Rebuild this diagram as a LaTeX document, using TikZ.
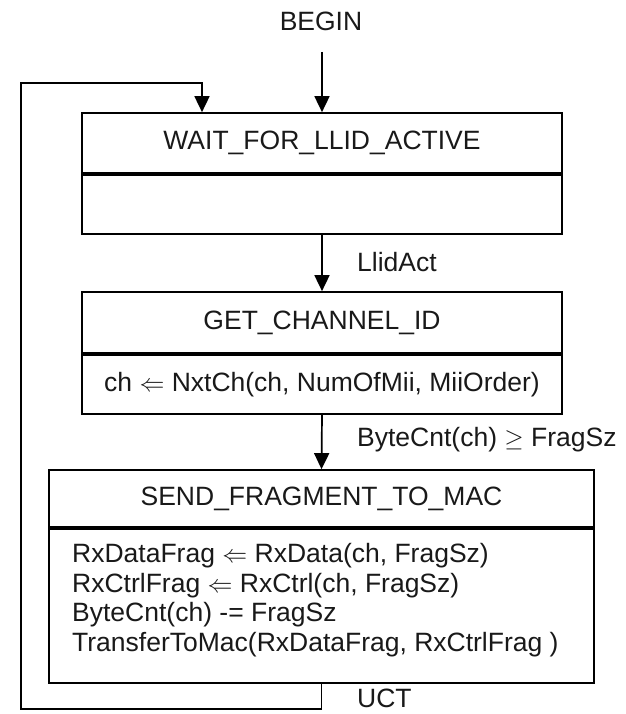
\documentclass[tikz,border=0pt]{standalone}
\usepackage{fontspec}
\setmainfont{Liberation Sans}
\usetikzlibrary{arrows.meta}
\newcommand{\larr}{\ensuremath{\Leftarrow}}
\begin{document}
\begin{tikzpicture}[x=1pt,y=-1pt,
  every node/.style={font=\fontsize{26.5}{29.5}\selectfont, inner sep=0pt, text=black!90},
  part/.style={draw, line width=1.7pt},
  arr/.style={line width=1.7pt, -{Triangle[length=16pt,width=15pt]}},
  lnk/.style={line width=1.7pt}]
\useasboundingbox (0,0) rectangle (625,714);
\node (begin) at (321,21) {BEGIN};
\coordinate (bs) at (322,52);
\node[part, minimum width=480pt, minimum height=60pt] (a1) at (322,143) {WAIT\_FOR\_LLID\_ACTIVE};
\node[part, minimum width=480pt, minimum height=59pt, anchor=north] (a2) at (a1.south) {};
\node[part, minimum width=480pt, minimum height=61pt] (b1) at (322,322.5) {GET\_CHANNEL\_ID};
\node[part, minimum width=480pt, minimum height=59pt, anchor=north] (b2) at (b1.south) {ch \larr{} NxtCh(ch, NumOfMii, MiiOrder)};
\node[part, minimum width=545pt, minimum height=57pt] (c1) at (321.5,498.5) {SEND\_FRAGMENT\_TO\_MAC};
\node[part, minimum width=545pt, minimum height=154pt, anchor=north] (c2) at (c1.south) {};
\node[anchor=west, align=left] (c2t) at (72,600) {RxDataFrag \larr{} RxData(ch, FragSz)\\
RxCtrlFrag \larr{} RxCtrl(ch, FragSz)\\
ByteCnt(ch) -= FragSz\\
TransferToMac(RxDataFrag, RxCtrlFrag )};
\node[anchor=west] (l1) at (357,262) {LlidAct};
\node[anchor=west] (l2) at (357,440) {ByteCnt(ch) $\geq$ FragSz};
\node[anchor=west] (l3) at (357,698) {UCT};
\draw[arr] (bs) -- (a1.north);
\draw[arr] (a2.south) -- (b1.north);
\draw[arr] (b2.south) -- (c1.north);
\coordinate (lb) at (21,709);
\coordinate (lt) at (21,83);
\coordinate (lx) at (202,83);
\draw[arr] (c2.south) |- (lb) -- (lt) -- (lx) -- (lx |- a1.north);
\end{tikzpicture}
\end{document}
